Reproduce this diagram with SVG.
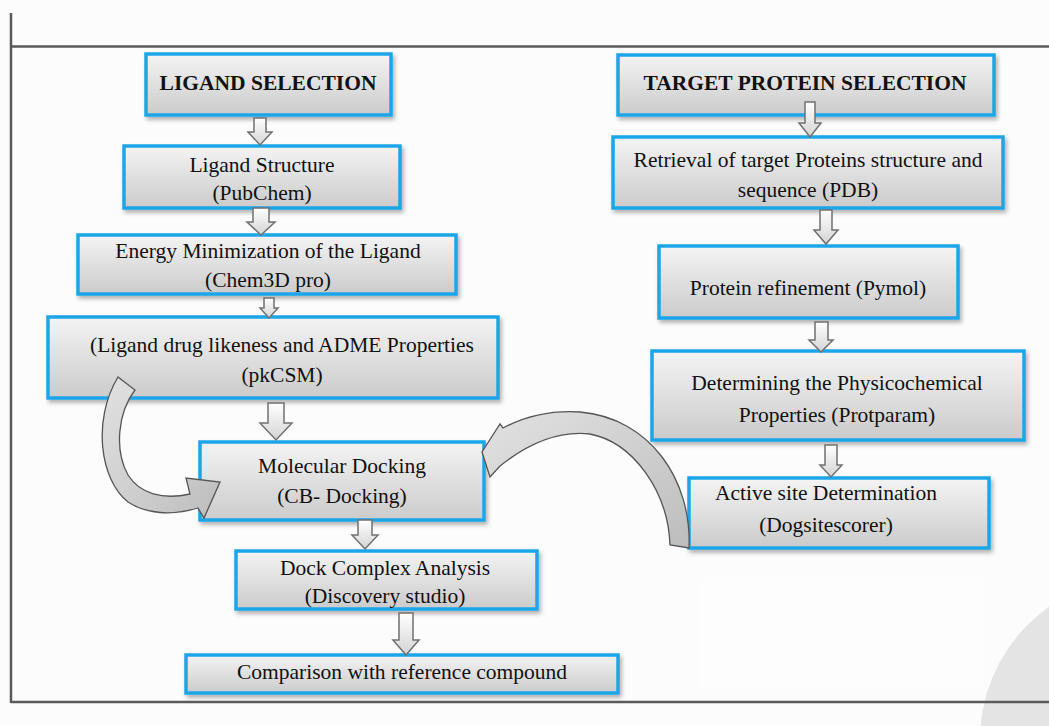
<svg xmlns="http://www.w3.org/2000/svg" width="1049" height="726" viewBox="0 0 1049 726">
<defs>
<linearGradient id="boxg" x1="0" y1="0" x2="0" y2="1">
<stop offset="0" stop-color="#f4f4f4"/>
<stop offset="1" stop-color="#cbcbcb"/>
</linearGradient>
<linearGradient id="arrg" x1="0" y1="0" x2="0" y2="1">
<stop offset="0" stop-color="#ffffff"/>
<stop offset="1" stop-color="#d4d4d4"/>
</linearGradient>
<linearGradient id="curg" x1="0" y1="0" x2="1" y2="1">
<stop offset="0" stop-color="#e2e2e2"/>
<stop offset="1" stop-color="#bdbdbd"/>
</linearGradient>
<filter id="sh" x="-10%" y="-20%" width="120%" height="150%">
<feDropShadow dx="2" dy="3" stdDeviation="2" flood-color="#000" flood-opacity="0.3"/>
</filter>
<style>
.box{fill:url(#boxg);stroke:#1ea6ea;stroke-width:3.5;filter:url(#sh)}
.t{font-family:"Liberation Serif","Times New Roman",serif;font-size:21.5px;fill:#111;text-anchor:middle}
.h{font-weight:bold}
.ba{fill:url(#arrg);stroke:#707070;stroke-width:1.5;stroke-linejoin:miter}
.ca{fill:url(#curg);stroke:#555;stroke-width:1.3}
.fr{stroke:#5a5a5a;stroke-width:2.5;fill:none}
</style>
</defs>
<rect x="0" y="0" width="1049" height="726" fill="#fcfcfc"/>
<circle cx="1143" cy="740" r="163" fill="#e4e4e4"/>
<rect x="700" y="578" width="282" height="112" fill="#ffffff" opacity="0.25"/>
<g id="frame">
<line class="fr" x1="11" y1="13" x2="11" y2="703"/>
<line class="fr" x1="11" y1="46.5" x2="1049" y2="46.5"/>
<line class="fr" x1="11" y1="702" x2="1049" y2="702"/>
</g>

<g id="n-ligand-selection">
<rect class="box" x="146" y="54" width="245" height="61"/>
<text class="t h" font-family="Liberation Serif, serif" x="268" y="90">LIGAND SELECTION</text>
</g>
<g id="n-ligand-structure">
<rect class="box" x="124" y="146" width="276" height="62"/>
<text class="t" font-family="Liberation Serif, serif" x="262" y="172">Ligand Structure</text>
<text class="t" font-family="Liberation Serif, serif" x="262" y="200">(PubChem)</text>
</g>
<g id="n-energy">
<rect class="box" x="78" y="235" width="378" height="59"/>
<text class="t" font-family="Liberation Serif, serif" x="268" y="258">Energy Minimization of the Ligand</text>
<text class="t" font-family="Liberation Serif, serif" x="268" y="287">(Chem3D pro)</text>
</g>
<g id="n-adme">
<rect class="box" x="48" y="317" width="450" height="81"/>
<text class="t" font-family="Liberation Serif, serif" x="282" y="352">(Ligand drug likeness and ADME Properties</text>
<text class="t" font-family="Liberation Serif, serif" x="282" y="382">(pkCSM)</text>
</g>
<g id="n-docking">
<rect class="box" x="200" y="442" width="284" height="78"/>
<text class="t" font-family="Liberation Serif, serif" x="342" y="473">Molecular Docking</text>
<text class="t" font-family="Liberation Serif, serif" x="342" y="503">(CB- Docking)</text>
</g>
<g id="n-dock-complex">
<rect class="box" x="236" y="551" width="301" height="58"/>
<text class="t" font-family="Liberation Serif, serif" x="385" y="575">Dock Complex Analysis</text>
<text class="t" font-family="Liberation Serif, serif" x="385" y="603">(Discovery studio)</text>
</g>
<g id="n-comparison">
<rect class="box" x="186" y="655" width="432" height="38"/>
<text class="t" font-family="Liberation Serif, serif" x="402" y="679">Comparison with reference compound</text>
</g>

<g id="n-target-selection">
<rect class="box" x="618" y="55" width="376" height="60"/>
<text class="t h" font-family="Liberation Serif, serif" x="805" y="90">TARGET PROTEIN SELECTION</text>
</g>
<g id="n-retrieval">
<rect class="box" x="613" y="137" width="390" height="71"/>
<text class="t" font-family="Liberation Serif, serif" x="808" y="167">Retrieval of target Proteins structure and</text>
<text class="t" font-family="Liberation Serif, serif" x="808" y="197">sequence (PDB)</text>
</g>
<g id="n-refinement">
<rect class="box" x="659" y="246" width="299" height="72"/>
<text class="t" font-family="Liberation Serif, serif" x="808" y="295">Protein refinement (Pymol)</text>
</g>
<g id="n-physico">
<rect class="box" x="652" y="351" width="372" height="89"/>
<text class="t" font-family="Liberation Serif, serif" x="837" y="390">Determining the Physicochemical</text>
<text class="t" font-family="Liberation Serif, serif" x="837" y="422">Properties (Protparam)</text>
</g>
<g id="n-active-site">
<rect class="box" x="689" y="478" width="300" height="70"/>
<text class="t" font-family="Liberation Serif, serif" x="826" y="500">Active site Determination</text>
<text class="t" font-family="Liberation Serif, serif" x="826" y="532">(Dogsitescorer)</text>
</g>

<g id="connectors">
<path class="ba" d="M254,118 H266 V132 H272 L260,145 L248,132 H254 Z"/>
<path class="ba" d="M253,208 H269 V222 H275 L261,235 L247,222 H253 Z"/>
<path class="ba" d="M264,298 H274 V308 H278 L269,318 L260,308 H264 Z"/>
<path class="ba" d="M268,403 H284 V423 H292 L276,440 L260,423 H268 Z"/>
<path class="ba" d="M358,520 H372 V535 H378 L365,549 L352,535 H358 Z"/>
<path class="ba" d="M399,613 H413 V640 H419 L406,655 L393,640 H399 Z"/>
<path class="ba" d="M805,102 H815 V123 H821 L810,137 L799,123 H805 Z"/>
<path class="ba" d="M820,210 H832 V230 H838 L826,244 L814,230 H820 Z"/>
<path class="ba" d="M815,322 H828 V340 H833 L821,352 L809,340 H815 Z"/>
<path class="ba" d="M825,445 H837 V465 H842 L831,477 L820,465 H825 Z"/>
<path class="ca" d="M118,377 L135,390 C118,412 114,450 128,475 C140,494 163,500 190,494 L186,478 L220,482 L204,518 L198,508 C172,516 146,514 128,502 C100,480 92,420 118,377 Z"/>
<path class="ca" d="M689,548 C692,480 650,418 580,412 C548,410 522,418 503,428 L500,424 L482,452 L490,477 L500,466 C525,446 555,430 590,434 C632,442 668,490 670,545 Z"/>
</g>
</svg>
